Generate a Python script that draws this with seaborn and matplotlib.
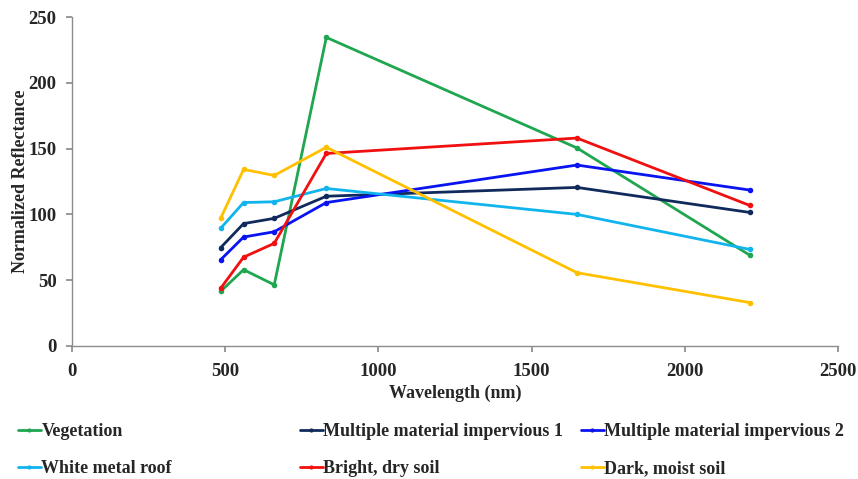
import numpy as np
import pandas as pd
import matplotlib
matplotlib.use("Agg")
import matplotlib.pyplot as plt
from matplotlib.lines import Line2D
import seaborn as sns

wavelengths = [485, 560, 660, 830, 1648, 2212]
series_names = ["Vegetation", "Multiple material impervious 1", "Multiple material impervious 2",
                "White metal roof", "Bright, dry soil", "Dark, moist soil"]
vegetation = [41.5, 58, 46.5, 234.5, 150.5, 69]
impervious1 = [74.7, 93, 97, 113.8, 120.5, 101.5]
impervious2 = [65.5, 82.8, 86.8, 109, 137.5, 118.5]
white_roof = [89.4, 109, 109.6, 119.7, 100, 73.4]
bright_soil = [43.8, 67.5, 78, 146.3, 158, 106.8]
dark_soil = [97, 134.2, 129.6, 151, 55.7, 33]
colors = ["#1FA64F", "#102A5C", "#0A14F0", "#12B4EE", "#F01010", "#FFC000"]

all_vals = [vegetation, impervious1, impervious2, white_roof, bright_soil, dark_soil]
rows = []
for name, vals in zip(series_names, all_vals):
    for w, v in zip(wavelengths, vals):
        rows.append({"Wavelength": w, "Reflectance": v, "Series": name})
df = pd.DataFrame(rows)

sns.set_theme(style="white")
plt.rcParams["font.family"] = ["Liberation Serif", "DejaVu Serif"]
plt.rcParams["font.weight"] = "bold"

FS = 13

fig = plt.figure(figsize=(8.58, 4.79), dpi=100)
ax = fig.add_axes([72/858, 1-346/479, 766/858, 329/479])

sns.lineplot(data=df, x="Wavelength", y="Reflectance", hue="Series",
             hue_order=series_names, palette=colors, marker="o", markersize=4,
             markeredgewidth=0, linewidth=2, ax=ax, legend=False, sort=False)

ax.set_xlim(0, 2500)
ax.set_ylim(0, 250)
ax.set_xticks(np.arange(0, 2501, 500))
ax.set_yticks(np.arange(0, 251, 50))
for s in ["top", "right"]:
    ax.spines[s].set_visible(False)
for s in ["left", "bottom"]:
    ax.spines[s].set_color("#8c8c8c")
    ax.spines[s].set_linewidth(1)
ax.tick_params(axis="both", direction="out", length=4, color="#8c8c8c",
               labelsize=13.5, pad=7, left=True, bottom=True)
ax.tick_params(axis="x", pad=8.5)
for lbl in ax.get_xticklabels() + ax.get_yticklabels():
    lbl.set_fontweight("bold")
ax.set_xlabel("Wavelength (nm)", fontsize=FS, fontweight="bold", labelpad=3)
ax.set_ylabel("Normalized Reflectance", fontsize=FS, fontweight="bold", labelpad=0)
ax.grid(False)

handles = {}
for line, name in zip(ax.get_lines(), series_names):
    handles[name] = line

columns = [["Vegetation", "White metal roof"],
           ["Multiple material impervious 1", "Bright, dry soil"],
           ["Multiple material impervious 2", "Dark, moist soil"]]
col_x = [18/858, 300/858, 581/858]
for cx, names in zip(col_x, columns):
    hs = [Line2D([], [], color=handles[n].get_color(), linewidth=2, marker="o",
                 markersize=3, markeredgewidth=0) for n in names]
    fig.legend(hs, names, loc="upper left", bbox_to_anchor=(cx, 1-423/479),
               frameon=False, handlelength=1.25, handletextpad=0.05,
               borderpad=0, borderaxespad=0,
               labelspacing=1.13, prop={"weight": "bold", "size": FS})

fig.savefig("out.png", dpi=100)
